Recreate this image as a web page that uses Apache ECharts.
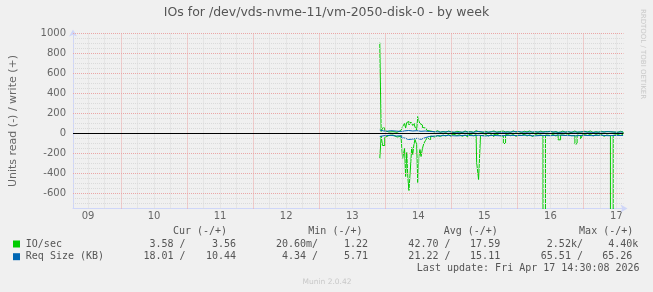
<!DOCTYPE html>
<html><head><meta charset="utf-8">
<script src="https://cdn.jsdelivr.net/npm/echarts@6/dist/echarts.min.js"></script>
<style>html,body{margin:0;padding:0;background:#F0F0F0;}#c{width:653px;height:292px;}</style>
</head><body><div id="c"></div>
<script>
// ---- axis labels / ticks ----
const dayLabels = ['09','10','11','12','13','14','15','16','17'];
const dayNoonHours = [12,36,60,84,108,132,156,180,204]; // hours since Apr 09 00:00
const yTickValues = [-600,-400,-200,0,200,400,600,800,1000];

// ---- IO/sec (hours since Apr 09 00:00) ----
const ioTime = [118.0,118.5,119.0,119.8,120.5,121.3,122.0,122.8,123.5,124.3,125.0,125.7,126.3,127.0,127.4,127.8,128.2,128.6,129.3,129.6,130.0,130.4,130.8,131.4,131.8,132.2,132.6,133.0,133.5,134.0,134.6,135.2,135.8,136.5,137.2,138.0,139.0,
140,141,142,143,144,145,146,147,148,149,150,151,152,153,153.2,153.9,154.6,155.5,156.5,157.5,158.5,159.5,160.5,161.5,162.2,162.9,163.7,164.5,165.5,166.5,167.5,168.5,169.5,170.5,171.5,172.5,173.5,174.5,175.5,176.5,177.3,178.2,179.0,180.0,181.0,182.0,182.8,183.7,184.5,185.5,186.5,187.5,188.2,188.9,189.7,190.3,191.0,191.7,192.5,193.5,194.5,195.5,196.5,197.5,198.5,199.5,200.5,201.2,201.8,202.8,203.5,204.5,205.5,206.4];
const ioWrite = [908,20,55,30,15,25,18,28,12,22,30,15,70,100,55,110,120,85,115,120,80,105,65,35,170,125,100,85,60,55,40,30,25,35,15,28,12,
20,12,25,15,10,22,18,8,25,14,20,10,28,15,18,20,12,22,10,18,25,12,20,8,24,15,18,10,26,14,20,9,22,16,25,10,18,12,24,15,20,18,22,12,20,10,15,24,12,20,8,18,25,12,20,14,10,22,15,25,10,18,12,22,14,20,10,18,15,20,12,22,15,4];
const ioRead = [253,25,120,40,20,30,15,25,35,18,28,40,250,150,430,190,440,570,280,140,210,110,60,110,490,230,160,230,150,100,70,45,60,25,35,20,30,
15,25,10,30,8,20,12,28,15,35,10,22,12,18,290,460,20,10,25,12,30,8,20,15,25,100,12,22,10,28,15,20,8,25,12,30,10,18,14,25,2520,15,20,10,25,12,63,15,20,10,22,14,20,103,15,22,53,12,20,8,25,12,20,10,28,15,12,22,1800,18,10,20,8,4];

// ---- Req Size (KB) ----
const rqTime = [118.0,118.7,119.5,120.5,122,124,126,127,128.5,130,131.5,133,134.5,136,138,140,143,146,149,152,154,156,159,162,165,168,171,174,177,180,183,186,189,192,195,198,201,204,206.4];
const rqWrite = [35,25,22,28,24,20,26,30,25,28,22,25,20,18,15,18,12,16,14,20,13,17,12,15,19,13,16,14,18,12,16,14,17,12,15,18,13,15,10];
const rqRead  = [30,22,20,18,25,22,45,60,55,48,58,42,30,25,22,20,24,18,22,17,25,19,23,18,21,17,24,19,22,16,20,23,18,21,17,22,19,20,18];

// ---- legend texts ----
const legendHeaders = ['Cur (-/+)','Min (-/+)','Avg (-/+)','Max (-/+)'];
const ioReadStats  = ['3.58 /','20.60m/','42.70 /','2.52k/'];
const ioWriteStats = ['3.56 ','1.22 ','17.59 ','4.40k'];
const rqReadStats  = ['18.01 /','4.34 /','21.22 /','65.51 /'];
const rqWriteStats = ['10.44 ','5.71 ','15.11 ','65.26 '];

const GREEN = '#00CC00', BLUE = '#0066B3';
const XMIN = 6.55, XMAX = 206.55, YMIN = -750, YMAX = 1000;

// grid line positions
const minorX = [], majorX = [], minorY = [], majorY = [];
for (let h = 12; h <= 204; h += 6) { (h % 24 === 0 ? majorX : minorX).push(h); }
for (let v = YMIN + 50; v <= YMAX; v += 50) { (v % 200 === 0 ? majorY : minorY).push(v); }

const chart = echarts.init(document.getElementById('c'), null, {renderer: 'canvas'});
const pair = (ts, vs, sign) => ts.map((t, i) => [t, sign * vs[i]]);
const lineSeries = (name, data, color) => ({
  name, type: 'line', data, step: 'end', showSymbol: false, symbol: 'none',
  lineStyle: {color, width: 1}, itemStyle: {color}, silent: true, z: 3
});
const gridSeries = (xs, ys, color) => ({
  type: 'line', data: [], silent: true, z: 1,
  markLine: {
    silent: true, symbol: 'none', animation: false, label: {show: false},
    lineStyle: {color, width: 1, type: [1, 1]},
    data: xs.map(x => ({xAxis: x})).concat(ys.map(y => ({yAxis: y})))
  }
});

const mono = '10px "DejaVu Sans Mono"';
const graphics = [];
graphics.push({type: 'text', x: 326.5, y: 13, style: {text: 'IOs for /dev/vds-nvme-11/vm-2050-disk-0 - by week', font: '12.5px "DejaVu Sans"', fill: '#555', align: 'center', verticalAlign: 'middle'}});
graphics.push({type: 'text', x: 643, y: 54, rotation: -Math.PI / 2, style: {text: 'RRDTOOL / TOBI OETIKER', font: '7px "DejaVu Sans"', fill: '#C8C8C8', align: 'center', verticalAlign: 'middle'}});
const rowY = [231.7, 244, 256.7];
legendHeaders.forEach((h, c) => graphics.push({type: 'text', x: 172.9 + c * 135.4, y: rowY[0], style: {text: h, font: mono, fill: '#555', align: 'left', verticalAlign: 'middle'}}));
[[GREEN, 'IO/sec', ioReadStats, ioWriteStats], [BLUE, 'Req Size (KB)', rqReadStats, rqWriteStats]].forEach((r, k) => {
  const y = rowY[k + 1];
  graphics.push({type: 'rect', shape: {x: 13, y: y - 3.5, width: 7, height: 7}, style: {fill: r[0]}});
  graphics.push({type: 'text', x: 25.8, y, style: {text: r[1], font: mono, fill: '#555', align: 'left', verticalAlign: 'middle'}});
  for (let c = 0; c < 4; c++) {
    graphics.push({type: 'text', x: 185.6 + c * 132.45, y, style: {text: r[2][c], font: mono, fill: '#555', align: 'right', verticalAlign: 'middle'}});
    graphics.push({type: 'text', x: 242 + c * 132.1, y, style: {text: r[3][c], font: mono, fill: '#555', align: 'right', verticalAlign: 'middle'}});
  }
});
graphics.push({type: 'text', x: 639.6, y: 268.3, style: {text: 'Last update: Fri Apr 17 14:30:08 2026', font: mono, fill: '#555', align: 'right', verticalAlign: 'middle'}});
graphics.push({type: 'text', x: 327, y: 281.7, style: {text: 'Munin 2.0.42', font: '7.5px "DejaVu Sans"', fill: '#C8C8C8', align: 'center', verticalAlign: 'middle'}});

chart.setOption({
  animation: false,
  backgroundColor: '#F0F0F0',
  grid: {left: 72.5, top: 33.5, width: 551, height: 175, containLabel: false},
  xAxis: {
    type: 'value', min: XMIN, max: XMAX,
    axisLine: {show: true, onZero: false, lineStyle: {color: '#CFD6F8', width: 1}, symbol: ['none', 'arrow'], symbolSize: [6, 7], symbolOffset: [0, 4]},
    axisTick: {show: false}, splitLine: {show: false},
    axisLabel: {customValues: dayNoonHours, formatter: v => dayLabels[dayNoonHours.indexOf(Math.round(v))], color: '#666', fontFamily: 'DejaVu Sans', fontSize: 10, margin: 3}
  },
  yAxis: {
    type: 'value', min: YMIN, max: YMAX,
    name: 'Units read (-) / write (+)', nameLocation: 'middle', nameRotate: 90, nameGap: 54,
    nameTextStyle: {color: '#666', fontFamily: 'DejaVu Sans', fontSize: 11},
    axisLine: {show: true, onZero: false, lineStyle: {color: '#CFD6F8', width: 1}, symbol: ['none', 'arrow'], symbolSize: [6, 7], symbolOffset: [0, 4]},
    axisTick: {show: false}, splitLine: {show: false},
    axisLabel: {customValues: yTickValues, formatter: v => String(v), color: '#666', fontFamily: 'DejaVu Sans', fontSize: 10, margin: 7}
  },
  graphic: graphics,
  series: [
    gridSeries(minorX, minorY, '#DADADA'),
    gridSeries(majorX, majorY, '#EBA6A6'),
    lineSeries('IO read', pair(ioTime, ioRead, -1), GREEN),
    lineSeries('IO write', pair(ioTime, ioWrite, 1), GREEN),
    lineSeries('Req read', pair(rqTime, rqRead, -1), BLUE),
    lineSeries('Req write', pair(rqTime, rqWrite, 1), BLUE),
    {type: 'line', data: [], silent: true, z: 4,
     markLine: {silent: true, symbol: 'none', animation: false, label: {show: false}, lineStyle: {color: '#000', width: 1, type: 'solid'}, data: [{yAxis: 0}]}}
  ]
});
</script>
</body></html>
